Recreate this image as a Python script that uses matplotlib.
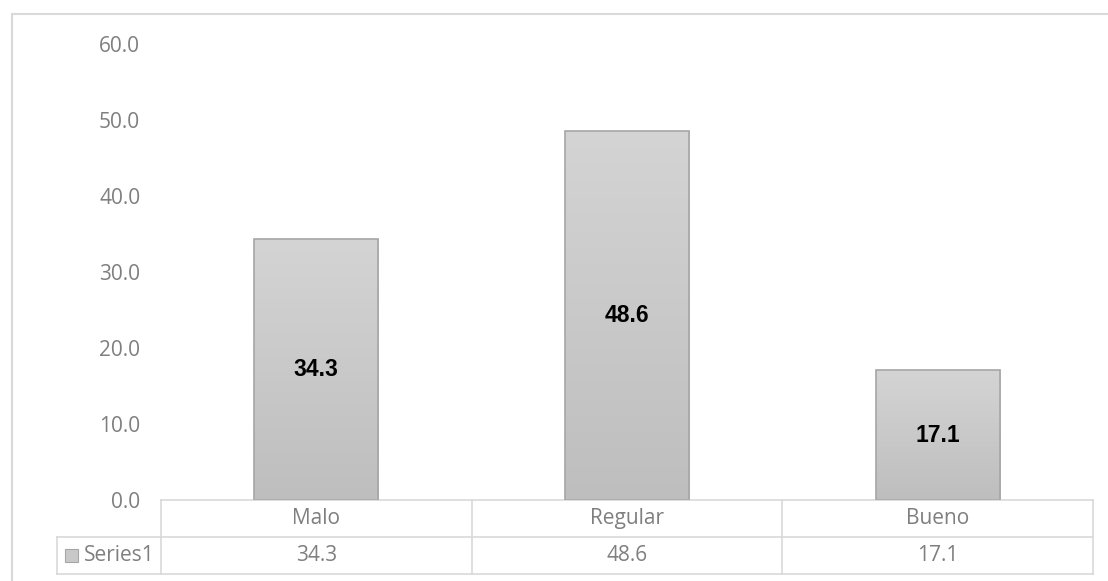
import numpy as np
import matplotlib
matplotlib.use("Agg")
import matplotlib.pyplot as plt
import matplotlib.patches as patches
from matplotlib.colors import LinearSegmentedColormap

categories = ["Malo", "Regular", "Bueno"]
values = [34.3, 48.6, 17.1]
series_name = "Series1"
y_ticks = [0, 10, 20, 30, 40, 50, 60]

W, H = 1108, 581
fig = plt.figure(figsize=(W / 100, H / 100), dpi=100)

# plot area in pixel coords
left_px, right_px = 161, 1093
top_px, zero_px = 44, 500
ax = fig.add_axes([left_px / W, 1 - zero_px / H,
                   (right_px - left_px) / W, (zero_px - top_px) / H])

text_color = "#7f7f7f"
line_color = "#d9d9d9"
tick_font = ["Open Sans", "DejaVu Sans"]

x = np.arange(len(categories))
bars = ax.bar(x, values, width=0.4, color="none", edgecolor="#a6a6a6",
              linewidth=1.2, zorder=3)

# gradient fill: lighter top, darker bottom
cmap = LinearSegmentedColormap.from_list("g", ["#bebebe", "#d4d4d4"])
grad = np.linspace(0, 1, 256).reshape(-1, 1)
for b in bars:
    im = ax.imshow(grad, cmap=cmap, aspect="auto", origin="lower",
                   extent=[b.get_x(), b.get_x() + b.get_width(), 0, b.get_height()],
                   zorder=2)
    im.set_clip_path(b)

for xi, v in zip(x, values):
    ax.text(xi, v / 2, f"{v:.1f}", ha="center", va="center", fontsize=16.5,
            fontweight="bold", family=["Liberation Sans Narrow", "Liberation Sans"],
            color="black", zorder=4)

ax.set_xlim(-0.5, len(categories) - 0.5)
ax.set_ylim(0, 60)
ax.set_yticks(y_ticks)
ax.set_yticklabels([f"{t:.1f}" for t in y_ticks], fontsize=15, color=text_color,
                   family=tick_font)
ax.tick_params(axis="y", length=0, pad=15)
ax.set_xticks([])
for s in ax.spines.values():
    s.set_visible(False)

# data table below the axes
row_h = 37 / (zero_px - top_px)
trans = ax.get_xaxis_transform()
lw = 1.2
for k in range(3):
    ax.plot([-0.5, 2.5], [-k * row_h] * 2, color=line_color, lw=lw,
            transform=trans, clip_on=False)
for xb in [-0.5, 0.5, 1.5, 2.5]:
    ax.plot([xb, xb], [0, -2 * row_h], color=line_color, lw=lw, transform=trans, clip_on=False)
for xi, c, v in zip(x, categories, values):
    ax.text(xi, -row_h / 2, c, ha="center", va="center", fontsize=15,
            color=text_color, family=tick_font, transform=trans)
    ax.text(xi, -1.5 * row_h, f"{v:.1f}", ha="center", va="center", fontsize=15,
            color=text_color, family=tick_font, transform=trans)

# legend cell for the series row
series_left = 57
row_px = 37
y_top = H - zero_px - row_px
y_bot = H - zero_px - 2 * row_px
y_mid = (y_top + y_bot) / 2
for yy in (y_top, y_bot):
    fig.add_artist(plt.Line2D([series_left / W, left_px / W], [yy / H] * 2,
                              color=line_color, lw=lw))
fig.add_artist(plt.Line2D([series_left / W] * 2, [y_top / H, y_bot / H],
                          color=line_color, lw=lw))
fig.add_artist(patches.Rectangle(((series_left + 8) / W, (y_mid - 6.5) / H), 13 / W, 13 / H,
                                 facecolor="#c8c8c8", edgecolor="#a6a6a6", lw=0.8))
fig.text((series_left + 27) / W, y_mid / H, series_name, ha="left", va="center",
         fontsize=15, color=text_color, family=tick_font)

# outer chart border
fig.add_artist(patches.Rectangle((12 / W, -0.1), 1.2, 1 - 14 / H + 0.1,
                                 facecolor="none", edgecolor=line_color, lw=1.5))

fig.savefig("out.png", dpi=100)
